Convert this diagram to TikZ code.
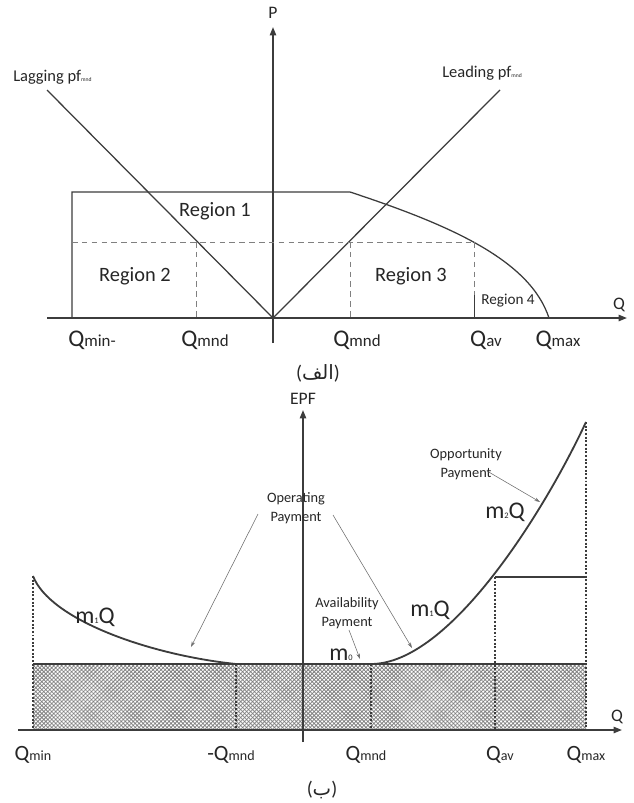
\documentclass[tikz,border=0pt]{standalone}
\usepackage{fontspec}
\setmainfont{Carlito}
\newfontfamily\arabicfont[Script=Arabic]{DejaVu Sans}
\TeXXeTstate=1
\usepackage{tikz}
\usetikzlibrary{arrows.meta, patterns.meta}

\definecolor{ink}{HTML}{3C3C3C}
\definecolor{hint}{HTML}{6E6E6E}

% Q with a small, not lowered, index
\newcommand{\qsub}[3]{{\fontsize{#1}{#1}\selectfont Q}{\fontsize{#2}{#2}\selectfont #3}}
% m with a tiny index, then Q
\newcommand{\msub}[2]{{\fontsize{17}{17}\selectfont m}{\fontsize{6}{6}\selectfont #1}{\fontsize{17}{17}\selectfont #2}}

\begin{document}
\begin{tikzpicture} [
    x=0.025cm, y=-0.025cm,
    every node/.style = {inner sep=0pt, text=black!85},
    axis/.style = {draw=ink, line width=1.2pt, -{Triangle[length=6pt,width=4.5pt]}},
    frame/.style = {draw=ink, line width=0.9pt},
    guide/.style = {draw=gray, line width=0.7pt, dash pattern=on 4pt off 3pt},
    curve/.style = {draw=ink, line width=1.3pt},
    dotline/.style = {draw=ink, line width=1.1pt, dash pattern=on 1.4pt off 1.2pt},
    pointer/.style = {draw=hint, line width=0.4pt, -{Stealth[length=4pt,width=2.5pt]}},
    region/.style = {font=\fontsize{14.5}{14.5}\selectfont},
    pflab/.style = {font=\fontsize{11.7}{11.7}\selectfont},
    note/.style = {font=\fontsize{10.2}{13.5}\selectfont, align=center},
    axlab/.style = {font=\fontsize{12.5}{12.5}\selectfont},
    caption/.style = {font=\fontsize{14}{14}\selectfont}
]
    \useasboundingbox (0,0) rectangle (633,803);

    % ---- (a) P-Q plane ----
    \coordinate (o1) at (273,318);
    \coordinate (qa1) at (47,318);
    \coordinate (qb1) at (627,318);
    \coordinate (pa) at (273,343);
    \coordinate (pb) at (273,27);
    \draw[axis] (qa1) -- (qb1);
    \draw[axis] (pa) -- (pb);
    \node[axlab] (plab) at (273,13) {P};
    \node[axlab] (qlab1) at (619,305) {Q};

    \draw[frame] (72,318) -- (72,192) -- (350,192)
        .. controls (450,225) and (530,260) .. (549,318);

    \node[pflab, anchor=west] (lag) at (13,77) {Lagging pf{\fontsize{4}{4}\selectfont mnd}};
    \node[pflab] (lead) at (482,73) {Leading pf{\fontsize{4}{4}\selectfont mnd}};
    \coordinate (lagend) at (47,90);
    \coordinate (leadend) at (500,90);
    \draw[frame] (lagend) -- (o1) -- (leadend);

    \draw[guide] (72,242) -- (474,242);
    \draw[guide] (196,242) -- (196,318);
    \draw[guide] (350,242) -- (350,318);
    \draw[guide] (474,242) -- (474,295);
    \draw[frame, line width=0.6pt] (474,295) -- (474,318);

    \node[region] (r1) at (215,211) {Region 1};
    \node[region] (r2) at (135,276) {Region 2};
    \node[region] (r3) at (411,276) {Region 3};
    \node[font=\fontsize{10.8}{10.8}\selectfont] (r4) at (508,301) {Region 4};

    \node (qmin1) at (92,340) {\qsub{17}{12}{min-}};
    \node (qmndl1) at (205,340) {\qsub{17}{12}{mnd}};
    \node (qmndr1) at (357,340) {\qsub{17}{12}{mnd}};
    \node (qav1) at (486,340) {\qsub{17}{12}{av}};
    \node (qmax1) at (558,340) {\qsub{17}{12}{max}};

    \node[caption] (capa) at (318,373) {({\arabicfont\beginR الف\endR})};

    % ---- (b) EPF against Q ----
    \coordinate (qa2) at (18,730);
    \coordinate (qb2) at (622,730);
    \coordinate (ea) at (303,742);
    \coordinate (eb) at (303,410);

    \fill[pattern={Hatch[angle=45,distance=2pt,line width=0.55pt]}, pattern color=gray]
        (33,664) rectangle (586,730);
    \draw[curve] (33,664) -- (586,664);
    \draw[dotline] (33,576) -- (33,730);
    \draw[dotline] (236,664) -- (236,730);
    \draw[dotline] (371,664) -- (371,730);
    \draw[dotline] (495,577) -- (495,730);
    \draw[dotline] (586,422) -- (586,730);
    \draw[curve] (495,577) -- (586,577);

    \draw[curve] (33,576) .. controls (50,620) and (150,655) .. (236,664);
    \draw[curve] (371,664) .. controls (450,664) and (545,510) .. (586,422);

    \draw[axis] (qa2) -- (qb2);
    \draw[axis] (ea) -- (eb);
    \node[axlab] (epf) at (303,399) {EPF};
    \node[axlab] (qlab2) at (617,717) {Q};

    \node (m1l) at (95,617) {\msub{1}{Q}};
    \node (m1r) at (430,610) {\msub{1}{Q}};
    \node (m2) at (505,512) {\msub{2}{Q}};
    \node (m0) at (341,655) {\msub{0}{}};

    \node[note] (oper) at (296,508) {Operating\\Payment};
    \coordinate (operl) at (258,514);
    \coordinate (operltip) at (191,647);
    \coordinate (operr) at (333,515);
    \coordinate (operrtip) at (412,648);
    \draw[pointer] (operl) -- (operltip);
    \draw[pointer] (operr) -- (operrtip);

    \node[note] (avail) at (347,613) {Availability\\Payment};
    \coordinate (availtail) at (349,630);
    \coordinate (availtip) at (360,659);
    \draw[pointer] (availtail) -- (availtip);

    \node[note] (oppo) at (466,464) {Opportunity\\Payment};
    \coordinate (oppotail) at (487,471);
    \coordinate (oppotip) at (540,502);
    \draw[pointer] (oppotail) -- (oppotip);

    \node (qmin2) at (33,755) {\qsub{15.5}{10}{min}};
    \node (qmndl2) at (231,755) {{\fontsize{15.5}{15.5}\selectfont -}\qsub{15.5}{10}{mnd}};
    \node (qmndr2) at (366,755) {\qsub{15.5}{10}{mnd}};
    \node (qav2) at (500,755) {\qsub{15.5}{10}{av}};
    \node (qmax2) at (586,755) {\qsub{15.5}{10}{max}};

    \node[caption] (capb) at (322,790) {({\arabicfont\beginR ب\endR})};
\end{tikzpicture}
\end{document}
